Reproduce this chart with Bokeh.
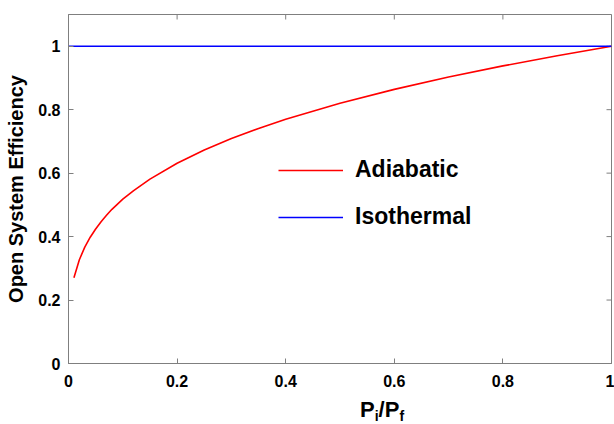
from bokeh.plotting import figure
from bokeh.models import FixedTicker, Div
from bokeh.layouts import column
from bokeh.embed import file_html
from bokeh.resources import INLINE

# ---- data ----
x_adiabatic = [0.01, 0.02, 0.03, 0.04, 0.05, 0.06, 0.07, 0.08, 0.10, 0.12, 0.15,
               0.20, 0.25, 0.30, 0.35, 0.40, 0.50, 0.60, 0.70, 0.80, 0.90, 1.00]
y_adiabatic = [0.27, 0.327, 0.367, 0.398, 0.424, 0.447, 0.467, 0.486, 0.518, 0.545, 0.581,
               0.631, 0.673, 0.709, 0.741, 0.770, 0.820, 0.864, 0.903, 0.938, 0.970, 1.00]
x_isothermal = [0.0, 1.0]
y_isothermal = [1.0, 1.0]

x_ticks = [0, 0.2, 0.4, 0.6, 0.8, 1]
x_tick_labels = ["0", "0.2", "0.4", "0.6", "0.8", "1"]
y_ticks = [0, 0.2, 0.4, 0.6, 0.8, 1]
y_tick_labels = ["0", "0.2", "0.4", "0.6", "0.8", "1"]

series_names = ["Adiabatic", "Isothermal"]
y_title = "Open System Efficiency"
x_title = ("P", "i", "P", "f")   # P_i / P_f

X_MIN, X_MAX = 0, 1
Y_MIN, Y_MAX = 0, 1.1

FONT = "Liberation Sans"
GRAY = "#7f7f7f"

p = figure(width=614, height=394, x_range=(X_MIN, X_MAX), y_range=(Y_MIN, Y_MAX),
           output_backend="svg", toolbar_location=None,
           min_border_left=68, min_border_right=3, min_border_top=14, min_border_bottom=31)

p.grid.visible = False
p.outline_line_color = GRAY
p.background_fill_color = "white"
p.border_fill_color = "white"

def style_axis(ax, ticks, labels):
    ax.ticker = FixedTicker(ticks=ticks)
    ax.major_label_overrides = dict(zip(ticks, labels))
    ax.major_tick_in = 5
    ax.major_tick_out = 0
    ax.minor_tick_line_color = None
    ax.axis_line_color = GRAY
    ax.major_tick_line_color = GRAY
    ax.major_label_text_font = FONT
    ax.major_label_text_font_style = "bold"
    ax.major_label_text_color = "black"
    ax.major_label_text_font_size = "16px"

xa = p.xaxis[0]
style_axis(xa, x_ticks, x_tick_labels)
xa.major_label_standoff = 11

ya = p.yaxis[0]
style_axis(ya, y_ticks, y_tick_labels)
ya.major_label_standoff = 8
ya.axis_label = y_title
ya.axis_label_text_font = FONT
ya.axis_label_text_font_style = "bold"
ya.axis_label_text_font_size = "20px"
ya.axis_label_standoff = 8
ya.axis_label_text_color = "black"

# mirrored inside ticks on the top and right edges (half of each dash is clipped by the frame)
p.scatter(x=x_ticks, y=[Y_MAX] * len(x_ticks), marker="dash", angle=1.5708,
          size=10, line_color=GRAY, line_width=1)
p.scatter(x=[X_MAX] * len(y_ticks), y=y_ticks, marker="dash",
          size=10, line_color=GRAY, line_width=1)

p.line(x_adiabatic, y_adiabatic, line_color="#ff0000", line_width=1.6, legend_label=series_names[0])
p.line(x_isothermal, y_isothermal, line_color="#0000ff", line_width=1.6, legend_label=series_names[1])

lg = p.legend[0]
lg.location = (210, 133)
lg.border_line_color = None
lg.background_fill_alpha = 0
lg.padding = 0
lg.margin = 0
lg.glyph_width = 65
lg.glyph_height = 26
lg.label_height = 26
lg.spacing = 20
lg.label_standoff = 12
lg.label_text_font = FONT
lg.label_text_font_style = "bold"
lg.label_text_font_size = "23px"
lg.label_text_color = "black"

sub_style = "font-size:14px; vertical-align:-4px; line-height:0;"
title_html = (
    '<div style="padding-left:355px; font-family:\'Liberation Sans\', Arial, sans-serif; '
    'font-weight:bold; font-size:22px; line-height:22px; color:black; white-space:nowrap;">'
    f'{x_title[0]}<sub style="{sub_style}">{x_title[1]}</sub>/'
    f'{x_title[2]}<sub style="{sub_style}">{x_title[3]}</sub></div>'
)
div = Div(text=title_html, width=614, height=30)

layout = column(p, div, spacing=0)
open("out.html", "w").write(file_html(layout, INLINE))
